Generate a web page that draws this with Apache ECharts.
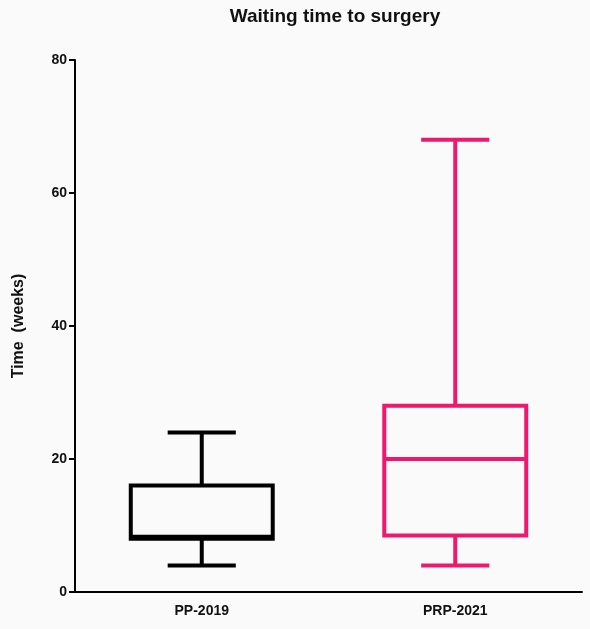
<!DOCTYPE html>
<html>
<head>
<meta charset="utf-8">
<script src="https://cdn.jsdelivr.net/npm/echarts@6/dist/echarts.min.js"></script>
<style>
  html, body { margin: 0; padding: 0; background: #fafafa; }
  #chart { width: 590px; height: 629px; }
</style>
</head>
<body>
<div id="chart"></div>
<script>
// groups and five-number summaries [min, Q1, median, Q3, max]
const groups = ["PP-2019", "PRP-2021"];
const boxStats = [
  [4, 8, 8.3, 16, 24],
  [4, 8.5, 20, 28, 68]
];
const groupColors = ["#000000", "#f0186a"];

let chart = echarts.init(document.getElementById("chart"));

// draw box, median and whiskers with narrower caps
let renderBox = (params, api) => {
  let i = api.value(0);
  let [mn, q1, med, q3, mx] = [1, 2, 3, 4, 5].map(k => api.value(k));
  let cx = api.coord([i, 0])[0];
  let band = api.size([1, 0])[0];
  let half = band * 0.28;
  let cap = half * 0.48;
  let y = v => api.coord([i, v])[1];
  let color = groupColors[i];
  let st = { stroke: color, lineWidth: 4, fill: null };
  return {
    type: "group",
    children: [
      { type: "rect", shape: { x: cx - half, y: y(q3), width: half * 2, height: y(q1) - y(q3) }, style: st },
      { type: "line", shape: { x1: cx - half, y1: y(med), x2: cx + half, y2: y(med) }, style: st },
      { type: "line", shape: { x1: cx, y1: y(q3), x2: cx, y2: y(mx) }, style: st },
      { type: "line", shape: { x1: cx, y1: y(q1), x2: cx, y2: y(mn) }, style: st },
      { type: "line", shape: { x1: cx - cap, y1: y(mx), x2: cx + cap, y2: y(mx) }, style: st },
      { type: "line", shape: { x1: cx - cap, y1: y(mn), x2: cx + cap, y2: y(mn) }, style: st }
    ]
  };
};

chart.setOption({
  backgroundColor: "#fafafa",
  animation: false,
  title: {
    text: "Waiting time to surgery",
    left: 330, top: 2, textAlign: "center",
    textStyle: { fontFamily: "Liberation Sans", fontSize: 19, fontWeight: "bold", color: "#111" }
  },
  grid: { left: 75, right: 8, top: 60, bottom: 37 },
  xAxis: {
    type: "category",
    data: groups,
    axisLine: { lineStyle: { color: "#000", width: 2 } },
    axisTick: { show: false },
    axisLabel: { fontFamily: "Liberation Sans", fontWeight: "bold", fontSize: 14, color: "#111", margin: 12 }
  },
  yAxis: {
    type: "value",
    min: 0, max: 80, interval: 20,
    name: "Time  (weeks)",
    nameLocation: "middle",
    nameGap: 48,
    nameTextStyle: { fontFamily: "Liberation Sans", fontWeight: "bold", fontSize: 16, color: "#111" },
    splitLine: { show: false },
    axisLine: { show: true, lineStyle: { color: "#000", width: 2 } },
    axisTick: { show: true, length: 6, lineStyle: { width: 2 } },
    axisLabel: { fontFamily: "Liberation Sans", fontWeight: "bold", fontSize: 14, color: "#111" }
  },
  series: [{
    type: "custom",
    renderItem: renderBox,
    encode: { x: 0, y: [1, 2, 3, 4, 5] },
    data: boxStats.map((s, i) => [i, ...s])
  }]
});
</script>
</body>
</html>
